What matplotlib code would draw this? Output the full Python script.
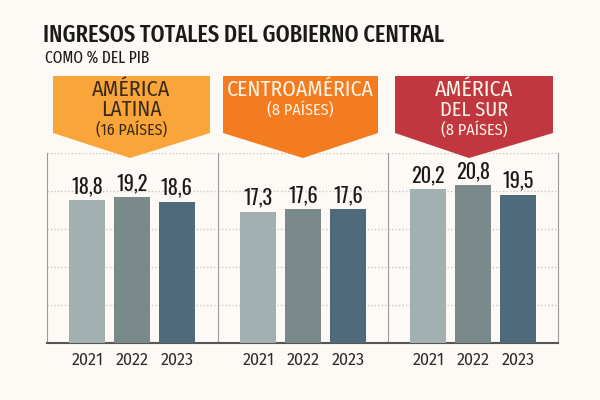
import matplotlib.pyplot as plt
from matplotlib.patches import Polygon
import matplotlib.font_manager as fm

# datos (% del PIB)
anios = ["2021", "2022", "2023"]
regiones = [["AMÉRICA", "LATINA"], ["CENTROAMÉRICA"], ["AMÉRICA", "DEL SUR"]]
paises = ["(16 PAÍSES)", "(8 PAÍSES)", "(8 PAÍSES)"]
america_latina = [18.8, 19.2, 18.6]
centroamerica = [17.3, 17.6, 17.6]
america_sur = [20.2, 20.8, 19.5]

valores = [america_latina, centroamerica, america_sur]
colores_barras = ["#a3b0b2", "#7a8a8a", "#4f6a7a"]
colores_banner = ["#f9a53a", "#f47c20", "#c0373f"]
colores_texto = ["#3a2a1a", "#fdf3e6", "#fdf3e6"]

nombres = {f.name for f in fm.fontManager.ttflist}


def elegir(lista):
    for n in lista:
        if n in nombres:
            return n
    return "DejaVu Sans"


f_titulo = elegir(["Fira Sans Extra Condensed", "Fira Sans Condensed", "Roboto Condensed", "Asap Condensed"])
f_banner = elegir(["Fira Sans Condensed", "Roboto Condensed", "Asap Condensed"])
f_cifras = elegir(["Oswald", "Bebas Neue", "Barlow Condensed", "Asap Condensed"])
f_anios = elegir(["Fira Sans", "Open Sans", "Noto Sans"])

fondo = "#fdf9f4"
W, H = 600, 400
fig = plt.figure(figsize=(6, 4), dpi=100, facecolor=fondo)
rend = fig.canvas.get_renderer()


def fx(x):
    return x / W


def fy(y):
    return 1 - y / H


def tamano(texto, ancho_px, **kw):
    # tamaño de letra para que el texto mida ancho_px
    t = fig.text(0, 0, texto, fontsize=10, **kw)
    w = t.get_window_extent(rend).width
    t.remove()
    return 10 * ancho_px / w


titulo = "INGRESOS TOTALES DEL GOBIERNO CENTRAL"
fig.text(fx(43), fy(35), titulo, family=f_titulo, fontweight="medium",
         fontsize=tamano(titulo, 402, family=f_titulo, fontweight="medium"),
         color="#1a1a1a", va="center", ha="left")
fig.text(fx(45), fy(58), "COMO % DEL PIB", family=f_titulo,
         fontsize=tamano("COMO % DEL PIB", 104, family=f_titulo),
         color="#1a1a1a", va="center", ha="left")

paneles = [47, 218, 388]
ancho = 170
banners = [(53, 210, 130), (223, 378, 303), (395, 553, 469)]
anchos_lineas = [[78, 60], [146], [78, 68]]
anchos_paises = [71, 66, 66]

tam_cifras = tamano("18,8", 32, family=f_cifras, fontweight="bold")
tam_anios = tamano("2021", 32, family=f_anios)

for i in range(3):
    ax = fig.add_axes([fx(paneles[i]), fy(343), fx(ancho), (343 - 153) / H])
    ax.set_facecolor(fondo)
    ax.bar(range(3), valores[i], width=0.8, color=colores_barras, zorder=3)
    for j, v in enumerate(valores[i]):
        ax.annotate(f"{v:.1f}".replace(".", ","), (j, v), xytext=(0, 7),
                    textcoords="offset pixels", ha="center", va="baseline",
                    family=f_cifras, fontweight="bold", fontsize=tam_cifras,
                    color="#1a1a1a", zorder=4)
    ax.set_xlim(-0.9, 2.9)
    ax.set_ylim(0, 25)
    ax.set_yticks([5, 10, 15, 20, 25])
    ax.yaxis.grid(True, color="#c8c8c8", linestyle=(0, (1, 1.5)), linewidth=1, zorder=0)
    ax.tick_params(axis="y", left=False, labelleft=False)
    ax.set_xticks(range(3))
    ax.set_xticklabels(anios, fontsize=tam_anios, color="#2a2a2a", family=f_anios)
    ax.tick_params(axis="x", length=0, pad=7)
    for s in ["top", "right"]:
        ax.spines[s].set_visible(False)
    ax.spines["left"].set_color("#9a9a9a")
    ax.spines["left"].set_linewidth(0.8)
    ax.spines["bottom"].set_color("#555555")
    ax.spines["bottom"].set_linewidth(1.5)
    if i == 2:
        ax.spines["right"].set_visible(True)
        ax.spines["right"].set_color("#9a9a9a")
        ax.spines["right"].set_linewidth(0.8)

    x0, x1, xt = banners[i]
    forma = Polygon([(fx(x0), fy(76)), (fx(x1), fy(76)), (fx(x1), fy(133)),
                     (fx(xt), fy(158)), (fx(x0), fy(133))],
                    closed=True, transform=fig.transFigure, facecolor=colores_banner[i],
                    edgecolor="none", zorder=5)
    fig.patches.append(forma)
    xc = fx((x0 + x1) / 2)
    y = 90
    for k, linea in enumerate(regiones[i]):
        fig.text(xc, fy(y), linea, ha="center", va="center", family=f_banner,
                 fontsize=tamano(linea, anchos_lineas[i][k], family=f_banner),
                 color=colores_texto[i], zorder=6)
        y += 20
    fig.text(xc, fy(y), paises[i], ha="center", va="center", family=f_banner,
             fontsize=tamano(paises[i], anchos_paises[i], family=f_banner),
             color=colores_texto[i], zorder=6)

fig.savefig("out.png", dpi=100, facecolor=fondo)
